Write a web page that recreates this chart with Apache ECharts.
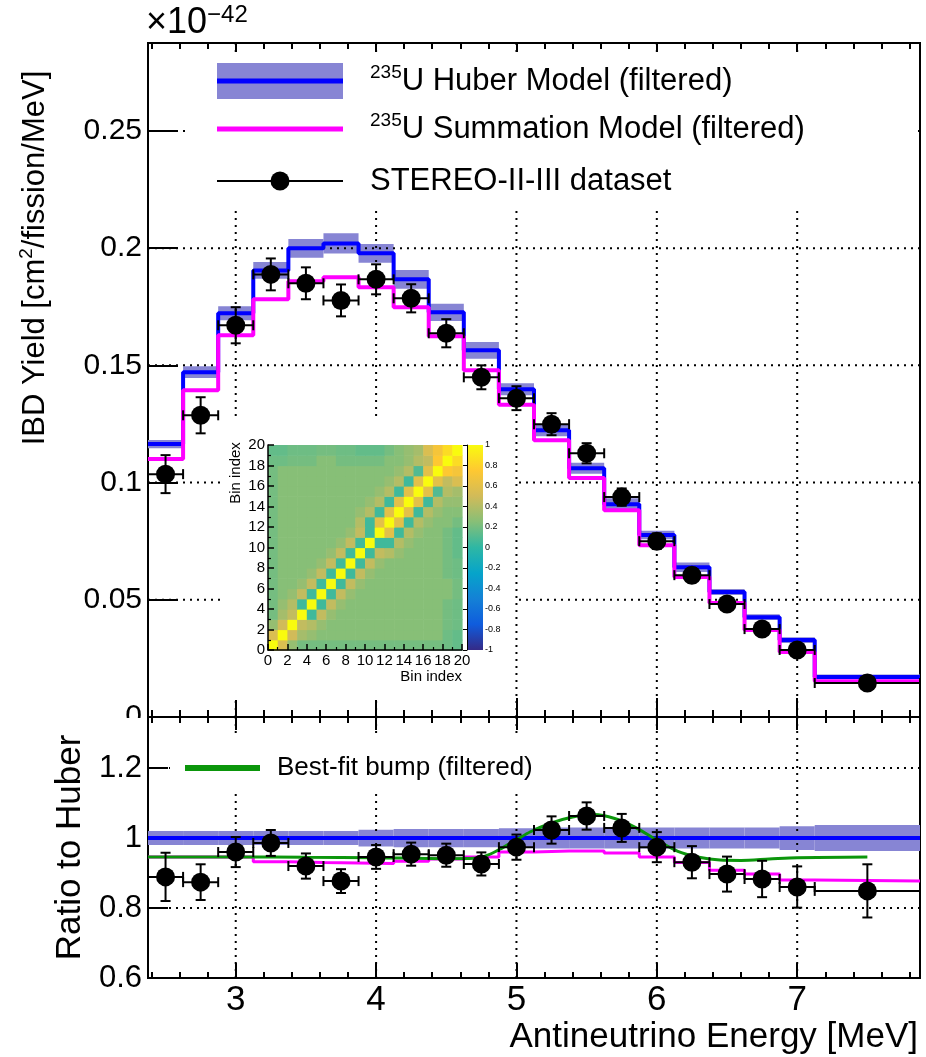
<!DOCTYPE html>
<html><head><meta charset="utf-8">
<script src="https://cdn.jsdelivr.net/npm/echarts@6/dist/echarts.min.js"></script>
<style>html,body{margin:0;padding:0;background:#fff}#c{width:926px;height:1057px}</style>
</head><body><div id="c"></div>
<script>
// ---------------- data ----------------
const binCenters = [2.5,2.75,3.0,3.25,3.5,3.75,4.0,4.25,4.5,4.75,5.0,5.25,5.5,5.75,6.0,6.25,6.5,6.75,7.0,7.5];
const binEdges = [2.375,2.625,2.875,3.125,3.375,3.625,3.875,4.125,4.375,4.625,4.875,5.125,5.375,5.625,5.875,6.125,6.375,6.625,6.875,7.125,7.875];
const huberYield = [0.1164,0.1471,0.1722,0.1905,0.1999,0.2020,0.1978,0.1867,0.1726,0.1564,0.1398,0.1223,0.1061,0.0908,0.0776,0.0639,0.0533,0.0426,0.0328,0.0171];
const huberYieldErr = [0.0018,0.0025,0.0030,0.0036,0.0040,0.0043,0.0040,0.0040,0.0037,0.0036,0.0026,0.0025,0.0023,0.0025,0.0018,0.0020,0.0013,0.0012,0.0012,0.0010];
const summationYield = [0.1100,0.1394,0.1628,0.1782,0.1859,0.1876,0.1833,0.1748,0.1624,0.1479,0.1332,0.1181,0.1019,0.0882,0.0733,0.0597,0.0486,0.0371,0.0277,0.0153];
const stereoYield = [0.1036,0.1287,0.1671,0.1888,0.1850,0.1777,0.1867,0.1786,0.1637,0.1449,0.1360,0.1249,0.1125,0.0938,0.0750,0.0605,0.0482,0.0375,0.0286,0.0145];
const stereoYieldErr = [0.0081,0.0077,0.0077,0.0068,0.0068,0.0068,0.0064,0.0060,0.0060,0.0051,0.0051,0.0047,0.0043,0.0037,0.0033,0.0030,0.0027,0.0022,0.0019,0.0013];

const huberRatio = [1,1,1,1,1,1,1,1,1,1,1,1,1,1,1,1,1,1,1,1];
const huberRatioErr = [0.020,0.020,0.020,0.020,0.020,0.020,0.024,0.026,0.026,0.026,0.028,0.030,0.030,0.030,0.030,0.030,0.030,0.030,0.034,0.037];
const summationRatio = [0.946,0.946,0.946,0.932,0.930,0.929,0.927,0.934,0.940,0.946,0.960,0.963,0.963,0.957,0.946,0.930,0.908,0.897,0.880,0.877];
const stereoRatio = [0.889,0.874,0.960,0.986,0.920,0.877,0.946,0.954,0.951,0.926,0.974,1.023,1.063,1.029,0.974,0.931,0.897,0.883,0.860,0.849];
const stereoRatioErr = [0.069,0.051,0.043,0.037,0.036,0.034,0.034,0.033,0.033,0.033,0.036,0.039,0.039,0.040,0.043,0.046,0.050,0.052,0.059,0.076];
const bumpEnergy = [2.375,3.0,3.5,4.0,4.5,4.7,4.8,4.9,5.0,5.1,5.25,5.4,5.55,5.7,5.85,6.0,6.15,6.3,6.45,6.6,6.8,7.0,7.5];
const bumpRatio = [0.946,0.946,0.945,0.944,0.941,0.942,0.952,0.972,0.995,1.018,1.043,1.060,1.067,1.056,1.030,0.994,0.962,0.945,0.937,0.936,0.940,0.944,0.946];

// correlation matrix (lower triangle, row = bin index on y)
const corrLower = [
 [1],
 [0.55,1],
 [0.3,0.5,1],
 [0.2,0.35,0.45,1],
 [0.2,0.3,0.4,0.05,1],
 [0.2,0.25,0.3,0.45,0.05,1],
 [0.2,0.25,0.25,0.3,0.45,0.05,1],
 [0.2,0.25,0.25,0.25,0.3,0.45,0.05,1],
 [0.2,0.25,0.25,0.25,0.25,0.3,0.45,0.05,1],
 [0.2,0.25,0.25,0.25,0.25,0.25,0.3,0.45,0.05,1],
 [0.2,0.25,0.25,0.25,0.25,0.25,0.25,0.3,0.45,0.05,1],
 [0.2,0.25,0.25,0.25,0.25,0.25,0.25,0.25,0.3,0.45,0.05,1],
 [0.2,0.25,0.25,0.25,0.25,0.25,0.25,0.25,0.25,0.4,0.05,0.6,1],
 [0.2,0.25,0.25,0.25,0.25,0.25,0.25,0.25,0.25,0.3,0.4,0.05,0.6,1],
 [0.2,0.25,0.25,0.25,0.25,0.25,0.25,0.25,0.25,0.25,0.3,0.4,0.05,0.6,1],
 [0.2,0.25,0.25,0.25,0.25,0.25,0.25,0.25,0.25,0.25,0.25,0.3,0.4,0.05,0.6,1],
 [0.2,0.25,0.25,0.25,0.25,0.25,0.25,0.25,0.25,0.25,0.25,0.25,0.3,0.4,0.05,0.6,1],
 [0.2,0.25,0.25,0.25,0.25,0.25,0.25,0.25,0.25,0.25,0.25,0.25,0.25,0.3,0.4,0.1,0.6,1],
 [0.18,0.18,0.2,0.2,0.2,0.25,0.25,0.2,0.2,0.2,0.2,0.2,0.25,0.25,0.3,0.4,0.45,0.75,1],
 [0.15,0.15,0.18,0.18,0.18,0.2,0.2,0.18,0.18,0.15,0.15,0.15,0.2,0.25,0.3,0.35,0.55,0.7,0.85,1]
];

// axis ticks / labels
const xMajorTicks = [3,4,5,6,7];
const xMinorTicks = [2.4,2.6,2.8,3.2,3.4,3.6,3.8,4.2,4.4,4.6,4.8,5.2,5.4,5.6,5.8,6.2,6.4,6.6,6.8,7.2,7.4,7.6,7.8];
const yTicksTop = [0,0.05,0.1,0.15,0.2,0.25];
const yGridTop = [0.05,0.1,0.15,0.2,0.25];
const yTicksRatio = [0.6,0.8,1,1.2];
const yGridRatio = [0.8,1,1.2];

// ---------------- styles ----------------
const FONT = "'Liberation Sans', Arial, Helvetica, sans-serif";
const BAND = '#8785d4';
const BLUE = '#0000ff', MAGENTA = '#ff00ff', GREEN = '#0b960b';
const birdColors = ['#352a87','#0f5cdd','#1481d6','#06a4ca','#2eb7a4','#87bf77','#d1bb59','#fec832','#f9fb0e'];
const XMIN = 2.375, XMAX = 7.875, YTOP_MAX = 0.2875, R_MIN = 0.6, R_MAX = 1.346;

// ---------------- helpers ----------------
function steps(vals){const out=[];vals.forEach((v,i)=>{out.push([binEdges[i],v],[binEdges[i+1],v]);});return out;}
function bandData(vals,errs){return vals.map((v,i)=>[binEdges[i],binEdges[i+1],v-errs[i],v+errs[i]]);}
function errData(vals,errs){return vals.map((v,i)=>[binCenters[i],v,binEdges[i],binEdges[i+1],v-errs[i],v+errs[i]]);}
function bandItem(params,api){
  const a=api.coord([api.value(0),api.value(3)]), b=api.coord([api.value(1),api.value(2)]);
  return {type:'rect',shape:{x:a[0],y:a[1],width:b[0]-a[0],height:b[1]-a[1]},style:{fill:BAND}};
}
function errItem(params,api){
  const x=api.value(0),y=api.value(1);
  const c=api.coord([x,y]), pl=api.coord([api.value(2),y]), ph=api.coord([api.value(3),y]);
  const yl=api.coord([x,api.value(4)]), yh=api.coord([x,api.value(5)]);
  const st={stroke:'#000',lineWidth:2}; const cap=5;
  return {type:'group',children:[
    {type:'line',shape:{x1:pl[0],y1:c[1],x2:ph[0],y2:c[1]},style:st},
    {type:'line',shape:{x1:pl[0],y1:c[1]-cap,x2:pl[0],y2:c[1]+cap},style:st},
    {type:'line',shape:{x1:ph[0],y1:c[1]-cap,x2:ph[0],y2:c[1]+cap},style:st},
    {type:'line',shape:{x1:c[0],y1:yl[1],x2:c[0],y2:yh[1]},style:st},
    {type:'line',shape:{x1:c[0]-cap,y1:yl[1],x2:c[0]+cap,y2:yl[1]},style:st},
    {type:'line',shape:{x1:c[0]-cap,y1:yh[1],x2:c[0]+cap,y2:yh[1]},style:st}
  ]};
}
const DOT = {stroke:'#000',lineWidth:2,lineDash:[2,5]};
function vGridItem(params,api){
  const cs=params.coordSys; const c=api.coord([api.value(0),api.value(1)]);
  return {type:'line',shape:{x1:c[0],y1:cs.y,x2:c[0],y2:cs.y+cs.height},style:DOT};
}
function hGridItem(params,api){
  const cs=params.coordSys; const c=api.coord([api.value(1),api.value(0)]);
  return {type:'line',shape:{x1:cs.x,y1:c[1],x2:cs.x+cs.width,y2:c[1]},style:DOT};
}
function cellItem(params,api){
  const i=api.value(0), j=api.value(1);
  const a=api.coord([i,j+1]), b=api.coord([i+1,j]);
  return {type:'rect',shape:{x:a[0],y:a[1],width:b[0]-a[0]+0.6,height:b[1]-a[1]+0.6},style:{fill:api.visual('color')}};
}
function cbarItem(params,api){
  const a=api.coord([0,1]), b=api.coord([1,-1]);
  const stops=birdColors.slice().reverse().map((c,i,arr)=>({offset:i/(arr.length-1),color:c}));
  return {type:'rect',shape:{x:a[0],y:a[1],width:b[0]-a[0],height:b[1]-a[1]},style:{fill:{type:'linear',x:0,y:0,x2:0,y2:1,colorStops:stops}}};
}
const corrData=[];
for(let r=0;r<20;r++){for(let c=0;c<20;c++){const v=r>=c?corrLower[r][c]:corrLower[c][r];corrData.push([c,r,v]);}}

// ---------------- axes ----------------
const AX = {color:'#000',width:2};
function xAx(grid,pos,ticks,len,extra){
  return Object.assign({gridIndex:grid,type:'value',min:XMIN,max:XMAX,position:pos,
    axisLine:{show:true,lineStyle:AX},
    axisTick:{show:true,inside:true,length:len,customValues:ticks,lineStyle:AX},
    axisLabel:{show:false},splitLine:{show:false}},extra||{});
}
const xAxes=[
  xAx(0,'bottom',xMajorTicks,19), xAx(0,'bottom',xMinorTicks,7),
  xAx(0,'top',xMajorTicks,9), xAx(0,'top',xMinorTicks,6),
  xAx(1,'bottom',xMajorTicks,15,{
    axisLabel:{show:true,customValues:xMajorTicks,fontSize:35,fontFamily:FONT,color:'#000',margin:5},
    name:'Antineutrino Energy [MeV]',nameLocation:'end',nameGap:-2,
    nameTextStyle:{fontSize:35,fontFamily:FONT,color:'#000',align:'right',verticalAlign:'top',padding:[42,0,0,0]}}),
  xAx(1,'bottom',xMinorTicks,6),
  xAx(1,'top',xMajorTicks,13), xAx(1,'top',xMinorTicks,6),
  {gridIndex:2,type:'value',min:0,max:20,interval:2,z:11,
   axisLine:{show:true,lineStyle:{color:'#000',width:1.5}},
   axisTick:{show:true,inside:true,length:6,lineStyle:{color:'#000',width:1.5}},
   minorTick:{show:true,splitNumber:2,length:3,lineStyle:{color:'#000',width:1.2}},
   axisLabel:{fontSize:15,fontFamily:FONT,color:'#000',margin:3},
   splitLine:{show:false},
   name:'Bin index',nameLocation:'end',nameGap:0,
   nameTextStyle:{fontSize:15,fontFamily:FONT,color:'#000',align:'right',verticalAlign:'top',padding:[19,0,0,0]}},
  {gridIndex:3,type:'value',min:0,max:1,show:false}
];
const yAxes=[
  {gridIndex:0,type:'value',min:0,max:YTOP_MAX,
   axisLine:{show:true,lineStyle:AX},
   axisTick:{show:true,inside:true,length:30,customValues:yTicksTop,lineStyle:AX},
   axisLabel:{customValues:yTicksTop,fontSize:30,fontFamily:FONT,color:'#000',margin:6,formatter:v=>String(+(+v).toFixed(3))},
   splitLine:{show:false}},
  {gridIndex:1,type:'value',min:R_MIN,max:R_MAX,
   axisLine:{show:true,lineStyle:AX},
   axisTick:{show:true,inside:true,length:20,customValues:yTicksRatio,lineStyle:AX},
   axisLabel:{customValues:yTicksRatio,fontSize:31,fontFamily:FONT,color:'#000',margin:6,formatter:v=>String(+(+v).toFixed(2))},
   splitLine:{show:false},
   name:'Ratio to Huber',nameLocation:'middle',nameGap:56,
   nameTextStyle:{fontSize:35,fontFamily:FONT,color:'#000'}},
  {gridIndex:2,type:'value',min:0,max:20,interval:2,z:11,
   axisLine:{show:true,lineStyle:{color:'#000',width:1.5}},
   axisTick:{show:true,inside:true,length:6,lineStyle:{color:'#000',width:1.5}},
   minorTick:{show:true,splitNumber:2,length:3,lineStyle:{color:'#000',width:1.2}},
   axisLabel:{fontSize:15,fontFamily:FONT,color:'#000',margin:3},
   splitLine:{show:false}},
  {gridIndex:3,type:'value',min:-1,max:1,interval:0.2,position:'right',z:11,
   axisLine:{show:true,lineStyle:{color:'#000',width:1}},
   axisTick:{show:true,inside:true,length:4,lineStyle:{color:'#000',width:1}},
   axisLabel:{fontSize:9,fontFamily:FONT,color:'#000',margin:2,formatter:v=>String(+(+v).toFixed(1))},
   splitLine:{show:false}}
];

// ---------------- series ----------------
const series=[
  {type:'custom',name:'Huber band',xAxisIndex:0,yAxisIndex:0,z:2,renderItem:bandItem,encode:{x:[0,1],y:[2,3]},data:bandData(huberYield,huberYieldErr),silent:true},
  {type:'custom',name:'vgrid top',xAxisIndex:0,yAxisIndex:0,z:3,renderItem:vGridItem,data:xMajorTicks.map(v=>[v,0.1]),silent:true},
  {type:'custom',name:'hgrid top',xAxisIndex:0,yAxisIndex:0,z:3,renderItem:hGridItem,data:yGridTop.map(v=>[v,5]),encode:{y:0,x:1},silent:true},
  {type:'line',name:'235U Huber Model (filtered)',xAxisIndex:0,yAxisIndex:0,z:4,data:steps(huberYield),showSymbol:false,lineStyle:{color:BLUE,width:4},itemStyle:{color:BLUE}},
  {type:'line',name:'235U Summation Model (filtered)',xAxisIndex:0,yAxisIndex:0,z:4,data:steps(summationYield),showSymbol:false,lineStyle:{color:MAGENTA,width:4},itemStyle:{color:MAGENTA}},
  {type:'custom',name:'STEREO err',xAxisIndex:0,yAxisIndex:0,z:5,renderItem:errItem,encode:{x:0,y:1},data:errData(stereoYield,stereoYieldErr),silent:true},
  {type:'scatter',name:'STEREO-II-III dataset',xAxisIndex:0,yAxisIndex:0,z:6,symbolSize:19,itemStyle:{color:'#000',opacity:1},data:binCenters.map((x,i)=>[x,stereoYield[i]])},

  {type:'custom',name:'Huber band ratio',xAxisIndex:4,yAxisIndex:1,z:2,renderItem:bandItem,encode:{x:[0,1],y:[2,3]},data:bandData(huberRatio,huberRatioErr),silent:true},
  {type:'custom',name:'vgrid bottom',xAxisIndex:4,yAxisIndex:1,z:3,renderItem:vGridItem,data:xMajorTicks.map(v=>[v,1]),silent:true},
  {type:'custom',name:'hgrid bottom',xAxisIndex:4,yAxisIndex:1,z:3,renderItem:hGridItem,data:yGridRatio.map(v=>[v,5]),encode:{y:0,x:1},silent:true},
  {type:'line',name:'Huber ratio',xAxisIndex:4,yAxisIndex:1,z:4,data:steps(huberRatio),showSymbol:false,lineStyle:{color:BLUE,width:4}},
  {type:'line',name:'Summation ratio',xAxisIndex:4,yAxisIndex:1,z:4,data:steps(summationRatio),showSymbol:false,lineStyle:{color:MAGENTA,width:3}},
  {type:'line',name:'Best-fit bump (filtered)',xAxisIndex:4,yAxisIndex:1,z:4,data:bumpEnergy.map((x,i)=>[x,bumpRatio[i]]),showSymbol:false,smooth:0.3,lineStyle:{color:GREEN,width:3}},
  {type:'custom',name:'STEREO ratio err',xAxisIndex:4,yAxisIndex:1,z:5,renderItem:errItem,encode:{x:0,y:1},data:errData(stereoRatio,stereoRatioErr),silent:true},
  {type:'scatter',name:'STEREO ratio',xAxisIndex:4,yAxisIndex:1,z:6,symbolSize:19,itemStyle:{color:'#000',opacity:1},data:binCenters.map((x,i)=>[x,stereoRatio[i]])},

  {type:'custom',name:'Correlation',xAxisIndex:8,yAxisIndex:2,z:9,renderItem:cellItem,encode:{x:0,y:1},data:corrData,silent:true},
  {type:'custom',name:'Colorbar',xAxisIndex:9,yAxisIndex:3,z:9,renderItem:cbarItem,data:[[0.5,0]],silent:true}
];

// ---------------- legend / annotations (graphic) ----------------
const T = (txt,x,y,size,extra)=>Object.assign({type:'text',x:x,y:y,z:20,style:Object.assign({text:txt,fontSize:size,fontFamily:FONT,fill:'#000',align:'left',verticalAlign:'middle'},extra||{})});
const supRich = (size,sup)=>({t:{fontSize:size,fontFamily:FONT,fill:'#000',lineHeight:size+4},s:{fontSize:sup,fontFamily:FONT,fill:'#000',verticalAlign:'top',lineHeight:sup}});
const graphic=[
  {type:'rect',z:7,shape:{x:185,y:56,width:733,height:150},style:{fill:'#fff'}},
  {type:'rect',z:7,shape:{x:170,y:733,width:428,height:59},style:{fill:'#fff'}},
  {type:'rect',z:7,shape:{x:222,y:418,width:292,height:282},style:{fill:'#fff'}},
  {type:'rect',z:7,shape:{x:95,y:718,width:51,height:20},style:{fill:'#fff'}},
  // top legend
  {type:'rect',z:20,shape:{x:217,y:63,width:126,height:36},style:{fill:BAND}},
  {type:'line',z:21,shape:{x1:217,y1:81,x2:343,y2:81},style:{stroke:BLUE,lineWidth:5}},
  T('{s|235}{t|U Huber Model (filtered)}',370,81,31,{rich:supRich(31,19)}),
  {type:'line',z:21,shape:{x1:217,y1:129,x2:343,y2:129},style:{stroke:MAGENTA,lineWidth:5}},
  T('{s|235}{t|U Summation Model (filtered)}',370,129,31,{rich:supRich(31,19)}),
  {type:'line',z:21,shape:{x1:217,y1:181,x2:343,y2:181},style:{stroke:'#000',lineWidth:2}},
  {type:'circle',z:21,shape:{cx:280,cy:181,r:9.5},style:{fill:'#000'}},
  T('STEREO-II-III dataset',370,181,31),
  // bottom legend
  {type:'line',z:21,shape:{x1:185,y1:768,x2:260,y2:768},style:{stroke:GREEN,lineWidth:6}},
  T('Best-fit bump (filtered)',277,768,26),
  // exponent
  T('{t|\u00d710}{s|\u221242}',146,23,36,{rich:supRich(36,24)}),
  // top y title
  Object.assign(T('{t|IBD Yield [cm}{s|2}{t|/fission/MeV]}',35,258,31,{rich:supRich(31,19),align:'center'}),{rotation:Math.PI/2}),
  // inset y title
  Object.assign(T('Bin index',236,473,15,{align:'center'}),{rotation:Math.PI/2})
];

const chart=echarts.init(document.getElementById('c'),null,{renderer:'canvas'});
chart.setOption({
  animation:false,
  backgroundColor:'#fff',
  textStyle:{fontFamily:FONT},
  grid:[
    {left:148,top:43,width:772,height:674,show:true,borderColor:'#000',borderWidth:2,backgroundColor:'transparent'},
    {left:148,top:717,width:772,height:261,show:true,borderColor:'#000',borderWidth:2,backgroundColor:'transparent'},
    {left:268,top:445,width:194,height:205,show:false},
    {left:467,top:445,width:16,height:205,show:false}
  ],
  xAxis:xAxes,
  yAxis:yAxes,
  visualMap:{type:'continuous',min:-1,max:1,dimension:2,seriesIndex:15,show:false,inRange:{color:birdColors}},
  series:series,
  graphic:graphic
});
</script></body></html>
